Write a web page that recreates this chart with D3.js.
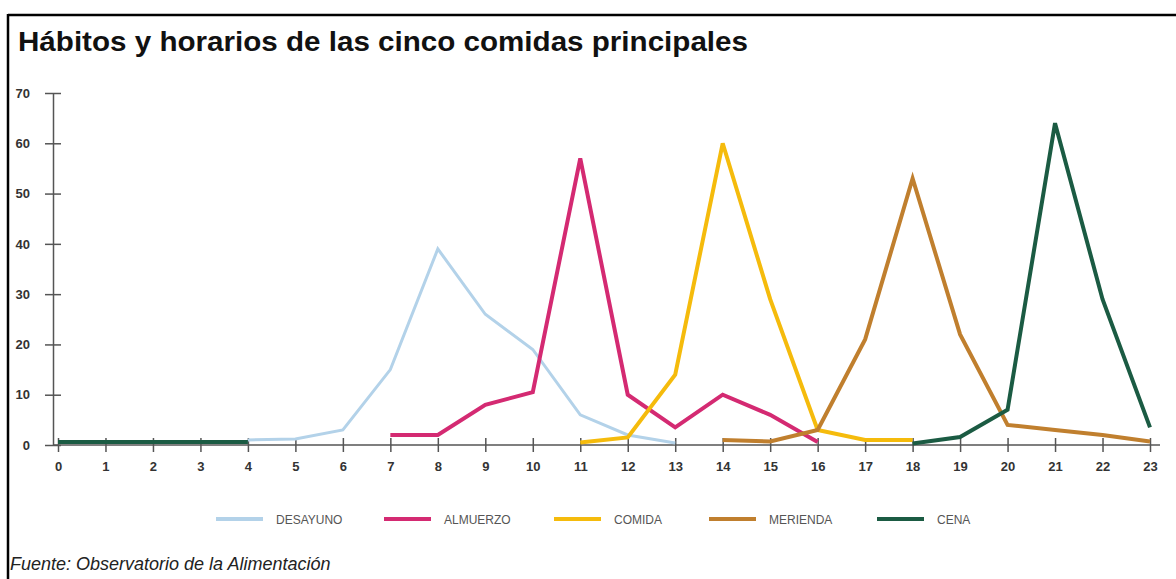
<!DOCTYPE html>
<html>
<head>
<meta charset="utf-8">
<script src="https://cdn.jsdelivr.net/npm/d3@7"></script>
<style>
  html, body { margin: 0; padding: 0; background: #fff; }
  svg { display: block; }
</style>
</head>
<body>
<svg id="chart" width="1176" height="579"></svg>
<script>
// Hours of the day (x categories)
const hours = d3.range(0, 24);
const yTicks = [0, 10, 20, 30, 40, 50, 60, 70];

// Share of people (%) having each meal at each hour; null = no data
const desayuno = [null, null, null, null, 1, 1.2, 3, 15, 39, 26, 19, 6, 2, 0.4, null, null, null, null, null, null, null, null, null, null];
const almuerzo = [null, null, null, null, null, null, null, 2, 2, 8, 10.5, 57, 10, 3.5, 10, 6, 0.6, null, null, null, null, null, null, null];
const comida   = [null, null, null, null, null, null, null, null, null, null, null, 0.5, 1.5, 14, 60, 29, 3, 1, 1, null, null, null, null, null];
const merienda = [null, null, null, null, null, null, null, null, null, null, null, null, null, null, 1, 0.7, 3, 21, 53, 22, 4, 3, 2, 0.7];
const cena     = [0.6, 0.6, 0.6, 0.6, 0.6, null, null, null, null, null, null, null, null, null, null, null, null, null, 0.3, 1.6, 7, 64, 29, 3.5];

const seriesNames = ["DESAYUNO", "ALMUERZO", "COMIDA", "MERIENDA", "CENA"];
const seriesData = [desayuno, almuerzo, comida, merienda, cena];
const seriesColors = ["#b3d2e9", "#d42a72", "#f5bb0c", "#c07f2e", "#1b5b43"];
const seriesWidths = [3, 4, 4, 4, 4];

const svg = d3.select("#chart");
const font = "Liberation Sans, Arial, sans-serif";

// Frame lines (top and left)
svg.append("line").attr("x1", 8).attr("x2", 1176).attr("y1", 15).attr("y2", 15)
  .attr("stroke", "#000").attr("stroke-width", 2.5);
svg.append("line").attr("x1", 8).attr("x2", 8).attr("y1", 14).attr("y2", 579)
  .attr("stroke", "#000").attr("stroke-width", 2.5);

// Title
svg.append("text")
  .attr("x", 18).attr("y", 51)
  .attr("font-family", font)
  .attr("font-weight", "bold")
  .attr("font-size", 27)
  .attr("textLength", 730)
  .attr("lengthAdjust", "spacingAndGlyphs")
  .attr("fill", "#111")
  .text("Hábitos y horarios de las cinco comidas principales");

// Scales
const x = d3.scaleLinear().domain([0, 23]).range([58, 1150]);
const y = d3.scaleLinear().domain([0, 70]).range([445, 93]);

const axisColor = "#555";

// Y axis: ticks crossing the axis line
const yAxis = svg.append("g").attr("transform", "translate(53,0)")
  .call(d3.axisLeft(y).tickValues(yTicks).tickSizeInner(8).tickSizeOuter(0).tickPadding(15));
yAxis.select(".domain").attr("stroke", axisColor).attr("stroke-width", 1.5);
yAxis.selectAll(".tick line").attr("x2", 8).attr("x1", -8).attr("stroke", axisColor).attr("stroke-width", 1.5);
yAxis.selectAll(".tick text")
  .attr("font-family", font)
  .attr("font-weight", "bold").attr("font-size", 13).attr("fill", "#333");

// X axis: ticks crossing the axis line
const xAxis = svg.append("g").attr("transform", "translate(0,445)")
  .call(d3.axisBottom(x).tickValues(hours).tickFormat(d3.format("d")).tickSizeInner(8).tickSizeOuter(0).tickPadding(9));
xAxis.select(".domain").attr("d", `M53,0H1160`).attr("stroke", axisColor).attr("stroke-width", 1.5);
xAxis.selectAll(".tick line").attr("y1", -7).attr("y2", 7).attr("stroke", axisColor).attr("stroke-width", 1.5);
xAxis.selectAll(".tick text")
  .attr("font-family", font)
  .attr("font-weight", "bold").attr("font-size", 13).attr("fill", "#333");

// Series lines
const line = d3.line()
  .defined(d => d.v !== null)
  .x(d => x(d.h))
  .y(d => y(d.v));

seriesData.forEach((vals, i) => {
  const pts = hours.map(h => ({ h, v: vals[h] }));
  svg.append("path")
    .datum(pts)
    .attr("fill", "none")
    .attr("stroke", seriesColors[i])
    .attr("stroke-width", seriesWidths[i])
    .attr("stroke-linejoin", "miter")
    .attr("d", line);
});

// Legend
const legendX = [216, 384, 554, 709, 877];
const legend = svg.append("g");
seriesNames.forEach((name, i) => {
  const g = legend.append("g").attr("transform", `translate(${legendX[i]},519)`);
  g.append("line").attr("x1", 0).attr("x2", 47).attr("y1", 0).attr("y2", 0)
    .attr("stroke", seriesColors[i]).attr("stroke-width", 4);
  g.append("text").attr("x", 60).attr("y", 4.5)
    .attr("font-family", font)
    .attr("font-size", 12).attr("fill", "#555")
    .text(name);
});

// Source note
svg.append("text")
  .attr("x", 10).attr("y", 570)
  .attr("font-family", font)
  .attr("font-style", "italic")
  .attr("font-size", 18)
  .attr("fill", "#222")
  .text("Fuente: Observatorio de la Alimentación");
</script>
</body>
</html>
